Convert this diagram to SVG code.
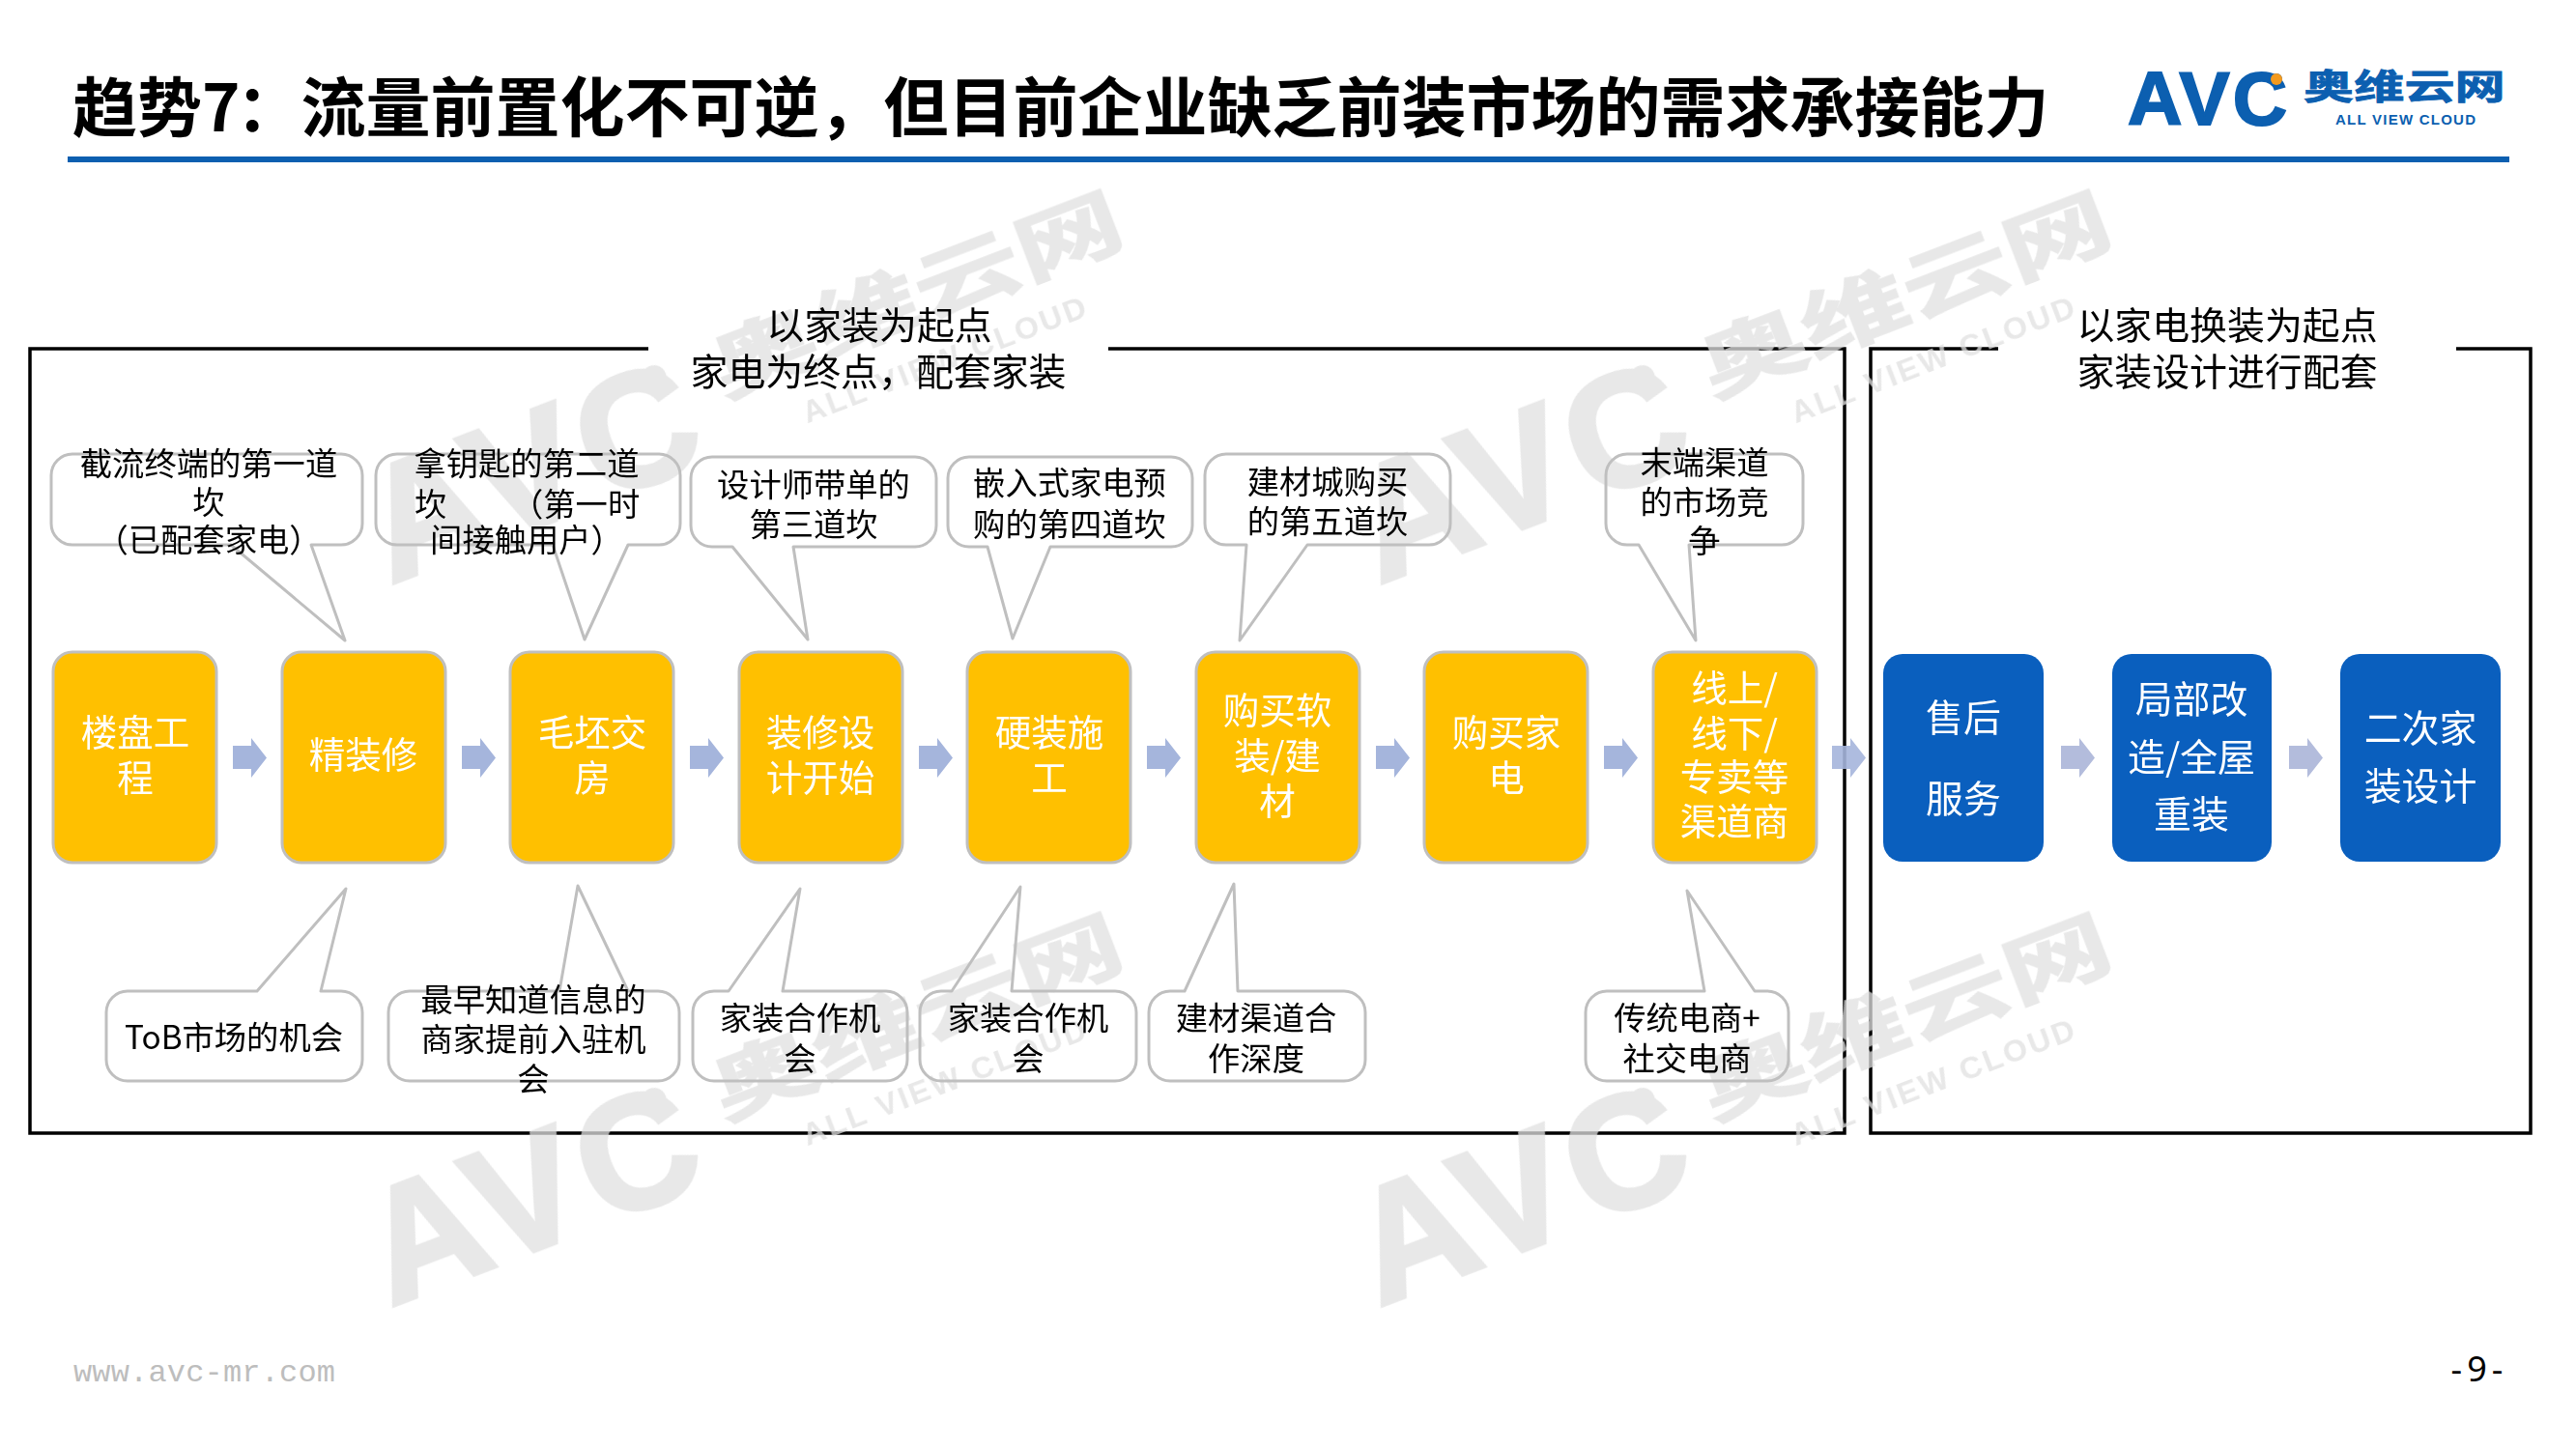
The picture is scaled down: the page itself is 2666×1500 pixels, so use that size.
<svg xmlns="http://www.w3.org/2000/svg" width="2666" height="1500" viewBox="0 0 2666 1500" lang="zh-CN">
<style>
text{font-family:"Noto Sans CJK SC","Noto Sans",sans-serif;text-anchor:middle;fill:#000}
.title{font-size:67px;font-weight:700;text-anchor:start}
.hd{font-size:38.9px}
.co{font-size:33.3px}
.yt{font-size:37.5px;fill:#fff}
.bt{font-size:38.9px;fill:#fff}
.frame{fill:none;stroke:#000;stroke-width:3.5}
.call{fill:none;stroke:#bfbfbf;stroke-width:3;stroke-linejoin:round}
.yn{fill:#ffc000;stroke:#bfbfbf;stroke-width:3}
.bn{fill:#0a5fbe}
.a1{fill:#a5b5dc}
.a2{fill:#b3bcdc}
.lat{font-family:"Liberation Sans",Arial,sans-serif;font-weight:700;text-anchor:start;fill:inherit;stroke-width:0}
.avc{stroke-width:2}
.cjk{font-weight:700;font-size:36px;text-anchor:start;fill:inherit;stroke-width:.8}
</style>
<defs>
<polygon id="arr" points="0,8 19,8 19,0 35,20.5 19,41 19,32 0,32"/>
<g id="logo">
<text class="lat avc" x="2202" y="129" font-size="78" textLength="165">AVC</text>
<circle cx="2356" cy="82" r="6" stroke-width="0"/>
<text class="cjk" transform="translate(2384,103) scale(1.45,1)" x="0" y="0">奥维云网</text>
<text class="lat" x="2417" y="129" font-size="15" textLength="145">ALL VIEW CLOUD</text>
</g>
</defs>
<rect width="2666" height="1500" fill="#fff"/>

<g id="header">
<text class="title" x="75" y="136">趋势7<tspan dx="-4">：</tspan>流量前置化不可逆，但目前企业缺乏前装市场的需求承接能力</text>
<rect x="70" y="162" width="2527" height="6" fill="#0c5fb0"/>
<use href="#logo" fill="#0c5fb0" stroke="#0c5fb0"/>
<circle cx="2356" cy="82" r="6" fill="#f39a1e"/>
</g>

<g id="frames">
<path class="frame" d="M671 361H31V1173H1909V361H1147"/>
<path class="frame" d="M2068 361H1936V1173H2619V361H2542"/>
</g>

<g id="watermarks" opacity="0.75" fill="#e0e0e0" stroke="#e0e0e0">
<use href="#logo" transform="translate(404,1352) rotate(-21) scale(2.15) translate(-2202,-129)"/>
<use href="#logo" transform="translate(1427,1352) rotate(-21) scale(2.15) translate(-2202,-129)"/>
<use href="#logo" transform="translate(404,604) rotate(-21) scale(2.15) translate(-2202,-129)"/>
<use href="#logo" transform="translate(1427,604) rotate(-21) scale(2.15) translate(-2202,-129)"/>
</g>

<g id="frame-labels">
<text class="hd" x="910" y="351">以家装为起点</text>
<text class="hd" x="909" y="399">家电为终点，配套家装</text>
<text class="hd" x="2305" y="351">以家电换装为起点</text>
<text class="hd" x="2305" y="399">家装设计进行配套</text>
</g>

<g id="callout-top-1"><path class="call" d="M75 470H353A22 22 0 0 1 375 492V542A22 22 0 0 1 353 564H322L357 663L239 564H75A22 22 0 0 1 53 542V492A22 22 0 0 1 75 470Z"/>
<text class="co" x="216" y="492">截流终端的第一道</text><text class="co" x="216" y="532">坎</text><text class="co" x="216" y="571">（已配套家电）</text></g>
<g id="callout-top-2"><path class="call" d="M411 470H682A22 22 0 0 1 704 492V542A22 22 0 0 1 682 564H650L605 662L572 564H411A22 22 0 0 1 389 542V492A22 22 0 0 1 411 470Z"/>
<text class="co" x="545" y="492">拿钥匙的第二道</text><text class="co" y="534" style="text-anchor:start"><tspan x="429">坎</tspan><tspan x="529">（第一时</tspan></text><text class="co" x="545" y="571">间接触用户）</text></g>
<g id="callout-top-3"><path class="call" d="M737 473H947A22 22 0 0 1 969 495V544A22 22 0 0 1 947 566H821L836 662L758 566H737A22 22 0 0 1 715 544V495A22 22 0 0 1 737 473Z"/>
<text class="co" x="842" y="514">设计师带单的</text><text class="co" x="842" y="555">第三道坎</text></g>
<g id="callout-top-4"><path class="call" d="M1003 473H1212A22 22 0 0 1 1234 495V544A22 22 0 0 1 1212 566H1087L1048 661L1022 566H1003A22 22 0 0 1 981 544V495A22 22 0 0 1 1003 473Z"/>
<text class="co" x="1107" y="512">嵌入式家电预</text><text class="co" x="1107" y="555">购的第四道坎</text></g>
<g id="callout-top-5"><path class="call" d="M1269 470H1479A22 22 0 0 1 1501 492V542A22 22 0 0 1 1479 564H1353L1283 663L1290 564H1269A22 22 0 0 1 1247 542V492A22 22 0 0 1 1269 470Z"/>
<text class="co" x="1374" y="511">建材城购买</text><text class="co" x="1374" y="552">的第五道坎</text></g>
<g id="callout-top-6"><path class="call" d="M1684 470H1844A22 22 0 0 1 1866 492V542A22 22 0 0 1 1844 564H1748L1755 663L1696 564H1684A22 22 0 0 1 1662 542V492A22 22 0 0 1 1684 470Z"/>
<text class="co" x="1764" y="491">末端渠道</text><text class="co" x="1764" y="532">的市场竞</text><text class="co" x="1764" y="572">争</text></g>

<g id="node-1"><rect class="yn" x="55" y="675" width="169" height="218" rx="20"/><text class="yt" x="140" y="772">楼盘工</text><text class="yt" x="140" y="819">程</text></g>
<g id="node-2"><rect class="yn" x="292" y="675" width="169" height="218" rx="20"/><text class="yt" x="376" y="795">精装修</text></g>
<g id="node-3"><rect class="yn" x="528" y="675" width="169" height="218" rx="20"/><text class="yt" x="613" y="772">毛坯交</text><text class="yt" x="613" y="819">房</text></g>
<g id="node-4"><rect class="yn" x="765" y="675" width="169" height="218" rx="20"/><text class="yt" x="849" y="772">装修设</text><text class="yt" x="849" y="819">计开始</text></g>
<g id="node-5"><rect class="yn" x="1001" y="675" width="169" height="218" rx="20"/><text class="yt" x="1086" y="772">硬装施</text><text class="yt" x="1086" y="819">工</text></g>
<g id="node-6"><rect class="yn" x="1238" y="675" width="169" height="218" rx="20"/><text class="yt" x="1322" y="749">购买软</text><text class="yt" x="1322" y="796">装/建</text><text class="yt" x="1322" y="843">材</text></g>
<g id="node-7"><rect class="yn" x="1474" y="675" width="169" height="218" rx="20"/><text class="yt" x="1559" y="772">购买家</text><text class="yt" x="1559" y="819">电</text></g>
<g id="node-8"><rect class="yn" x="1711" y="675" width="169" height="218" rx="20"/><text class="yt" x="1795" y="726">线上/</text><text class="yt" x="1795" y="773">线下/</text><text class="yt" x="1795" y="818">专卖等</text><text class="yt" x="1795" y="864">渠道商</text></g>

<g id="node-9"><rect class="bn" x="1949" y="677" width="166" height="215" rx="20"/><text class="bt" x="2032" y="757">售后</text><text class="bt" x="2032" y="841">服务</text></g>
<g id="node-10"><rect class="bn" x="2186" y="677" width="165" height="215" rx="20"/><text class="bt" x="2268" y="738">局部改</text><text class="bt" x="2268" y="798">造/全屋</text><text class="bt" x="2268" y="857">重装</text></g>
<g id="node-11"><rect class="bn" x="2422" y="677" width="166" height="215" rx="20"/><text class="bt" x="2505" y="768">二次家</text><text class="bt" x="2505" y="828">装设计</text></g>

<g id="callout-bottom-1"><path class="call" d="M132 1026H266L358 920L332 1026H353A22 22 0 0 1 375 1048V1097A22 22 0 0 1 353 1119H132A22 22 0 0 1 110 1097V1048A22 22 0 0 1 132 1026Z"/>
<text class="co" x="242" y="1086">ToB市场的机会</text></g>
<g id="callout-bottom-2"><path class="call" d="M424 1026H579L598 917L650 1026H681A22 22 0 0 1 703 1048V1097A22 22 0 0 1 681 1119H424A22 22 0 0 1 402 1097V1048A22 22 0 0 1 424 1026Z"/>
<text class="co" x="552" y="1047">最早知道信息的</text><text class="co" x="552" y="1088">商家提前入驻机</text><text class="co" x="552" y="1129">会</text></g>
<g id="callout-bottom-3"><path class="call" d="M739 1026H754L828 920L810 1026H917A22 22 0 0 1 939 1048V1097A22 22 0 0 1 917 1119H739A22 22 0 0 1 717 1097V1048A22 22 0 0 1 739 1026Z"/>
<text class="co" x="828" y="1066">家装合作机</text><text class="co" x="828" y="1108">会</text></g>
<g id="callout-bottom-4"><path class="call" d="M974 1026H985L1056 918L1047 1026H1154A22 22 0 0 1 1176 1048V1097A22 22 0 0 1 1154 1119H974A22 22 0 0 1 952 1097V1048A22 22 0 0 1 974 1026Z"/>
<text class="co" x="1064" y="1066">家装合作机</text><text class="co" x="1064" y="1108">会</text></g>
<g id="callout-bottom-5"><path class="call" d="M1211 1026H1226L1277 915L1281 1026H1391A22 22 0 0 1 1413 1048V1097A22 22 0 0 1 1391 1119H1211A22 22 0 0 1 1189 1097V1048A22 22 0 0 1 1211 1026Z"/>
<text class="co" x="1300" y="1066">建材渠道合</text><text class="co" x="1300" y="1108">作深度</text></g>
<g id="callout-bottom-6"><path class="call" d="M1663 1026H1764L1746 922L1816 1026H1829A22 22 0 0 1 1851 1048V1097A22 22 0 0 1 1829 1119H1663A22 22 0 0 1 1641 1097V1048A22 22 0 0 1 1663 1026Z"/>
<text class="co" x="1746" y="1066">传统电商+</text><text class="co" x="1746" y="1108">社交电商</text></g>

<g id="connectors">
<use href="#arr" class="a1" x="241" y="764"/>
<use href="#arr" class="a1" x="478" y="764"/>
<use href="#arr" class="a1" x="714" y="764"/>
<use href="#arr" class="a1" x="951" y="764"/>
<use href="#arr" class="a1" x="1187" y="764"/>
<use href="#arr" class="a1" x="1424" y="764"/>
<use href="#arr" class="a1" x="1660" y="764"/>
<use href="#arr" class="a1" x="1896" y="764" opacity="0.9"/>
<use href="#arr" class="a2" x="2133" y="764"/>
<use href="#arr" class="a2" x="2369" y="764"/>
</g>

<g id="footer">
<text x="76" y="1430" font-size="32" textLength="271" style="font-family:'Liberation Mono',monospace;text-anchor:start;fill:#bdbdbd">www.avc-mr.com</text>
<text x="2566" y="1430" font-size="36" letter-spacing="5" style="font-family:'Noto Sans',sans-serif">-9-</text>
</g>
</svg>
